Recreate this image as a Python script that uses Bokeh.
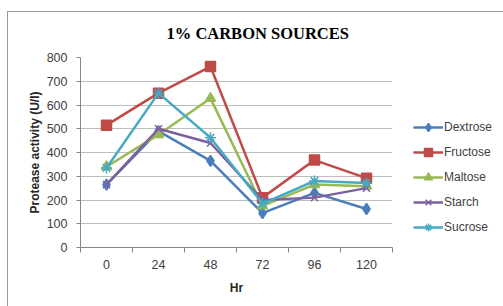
from bokeh.plotting import figure
from bokeh.models import Range1d, FixedTicker, Legend, LegendItem
from bokeh.embed import file_html
from bokeh.resources import INLINE

hours = [0, 24, 48, 72, 96, 120]
y_ticks = [0, 100, 200, 300, 400, 500, 600, 700, 800]

dextrose = [265, 490, 365, 145, 230, 162]
fructose = [515, 650, 762, 210, 368, 292]
maltose = [340, 475, 628, 175, 265, 258]
starch = [265, 500, 440, 200, 210, 250]
sucrose = [335, 650, 462, 185, 280, 272]

series_names = ["Dextrose", "Fructose", "Maltose", "Starch", "Sucrose"]
series_values = [dextrose, fructose, maltose, starch, sucrose]
colors = ["#4A7EBB", "#BE4B48", "#98B954", "#7D60A0", "#46AAC5"]
markers = ["diamond", "square", "triangle", "x", "asterisk"]
sizes = [11, 10, 10, 10, 11]

FONT = "Liberation Sans"
step = hours[1] - hours[0]

border_css = ("linear-gradient(#999999,#999999) 7px 11px / 1px 100% no-repeat, "
              "linear-gradient(#999999,#999999) 7px 11px / 100% 1px no-repeat, white")

p = figure(frame_width=312, frame_height=190, output_backend="svg", toolbar_location=None,
           x_range=Range1d(hours[0] - step / 2, hours[-1] + step / 2),
           y_range=Range1d(y_ticks[0], y_ticks[-1]),
           min_border_left=80, min_border_right=111, min_border_top=57, min_border_bottom=59,
           title="1% CARBON SOURCES",
           styles={"background": border_css})

p.title.align = "left"
p.title.offset = 86
p.title.standoff = 29
p.title.text_font = "Liberation Serif"
p.title.text_font_size = "16.5px"
p.title.text_font_style = "bold"
p.title.text_color = "#000000"

p.outline_line_color = None
p.background_fill_color = "white"
p.border_fill_alpha = 0

items = []
for name, vals, c, m, s in zip(series_names, series_values, colors, markers, sizes):
    r1 = p.line(hours, vals, line_color=c, line_width=2.5)
    r2 = p.scatter(hours, vals, marker=m, size=s, fill_color=c, line_color=c, line_width=1.5)
    items.append(LegendItem(label=name, renderers=[r1, r2]))

legend = Legend(items=items, location=(21, 10), padding=0, margin=0,
                border_line_color=None, background_fill_alpha=0,
                glyph_width=30, glyph_height=20, label_height=20, spacing=5,
                label_standoff=1, label_text_font=FONT, label_text_font_size="12px",
                label_text_color="#404040")
p.add_layout(legend, "right")

# x axis
p.xaxis.ticker = FixedTicker(ticks=hours,
                             minor_ticks=[h - step / 2 for h in hours] + [hours[-1] + step / 2])
p.xaxis.major_tick_out = 0
p.xaxis.major_tick_in = 0
p.xaxis.minor_tick_out = 5
p.xaxis.minor_tick_in = 0
p.xaxis.minor_tick_line_color = "#868686"
p.xaxis.axis_line_color = "#868686"
p.xaxis.major_label_standoff = 7
p.xaxis.axis_label = "Hr"
p.xaxis.axis_label_standoff = 9

# y axis
p.yaxis.ticker = FixedTicker(ticks=y_ticks)
p.yaxis.major_tick_out = 4
p.yaxis.major_tick_in = 0
p.yaxis.minor_tick_line_color = None
p.yaxis.major_tick_line_color = "#868686"
p.yaxis.axis_line_color = "#868686"
p.yaxis.major_label_standoff = 9
p.yaxis.axis_label = "Protease activity (U/l)"
p.yaxis.axis_label_standoff = 2

for ax in (p.xaxis, p.yaxis):
    ax.major_label_text_font = FONT
    ax.major_label_text_font_size = "12.5px"
    ax.major_label_text_color = "#404040"
    ax.axis_label_text_font = FONT
    ax.axis_label_text_font_size = "12px"
    ax.axis_label_text_font_style = "bold"
    ax.axis_label_text_color = "#262626"

p.xgrid.grid_line_color = None
p.ygrid.grid_line_color = "#BEBEBE"
p.ygrid.grid_line_width = 1

open("out.html", "w").write(file_html(p, INLINE))
